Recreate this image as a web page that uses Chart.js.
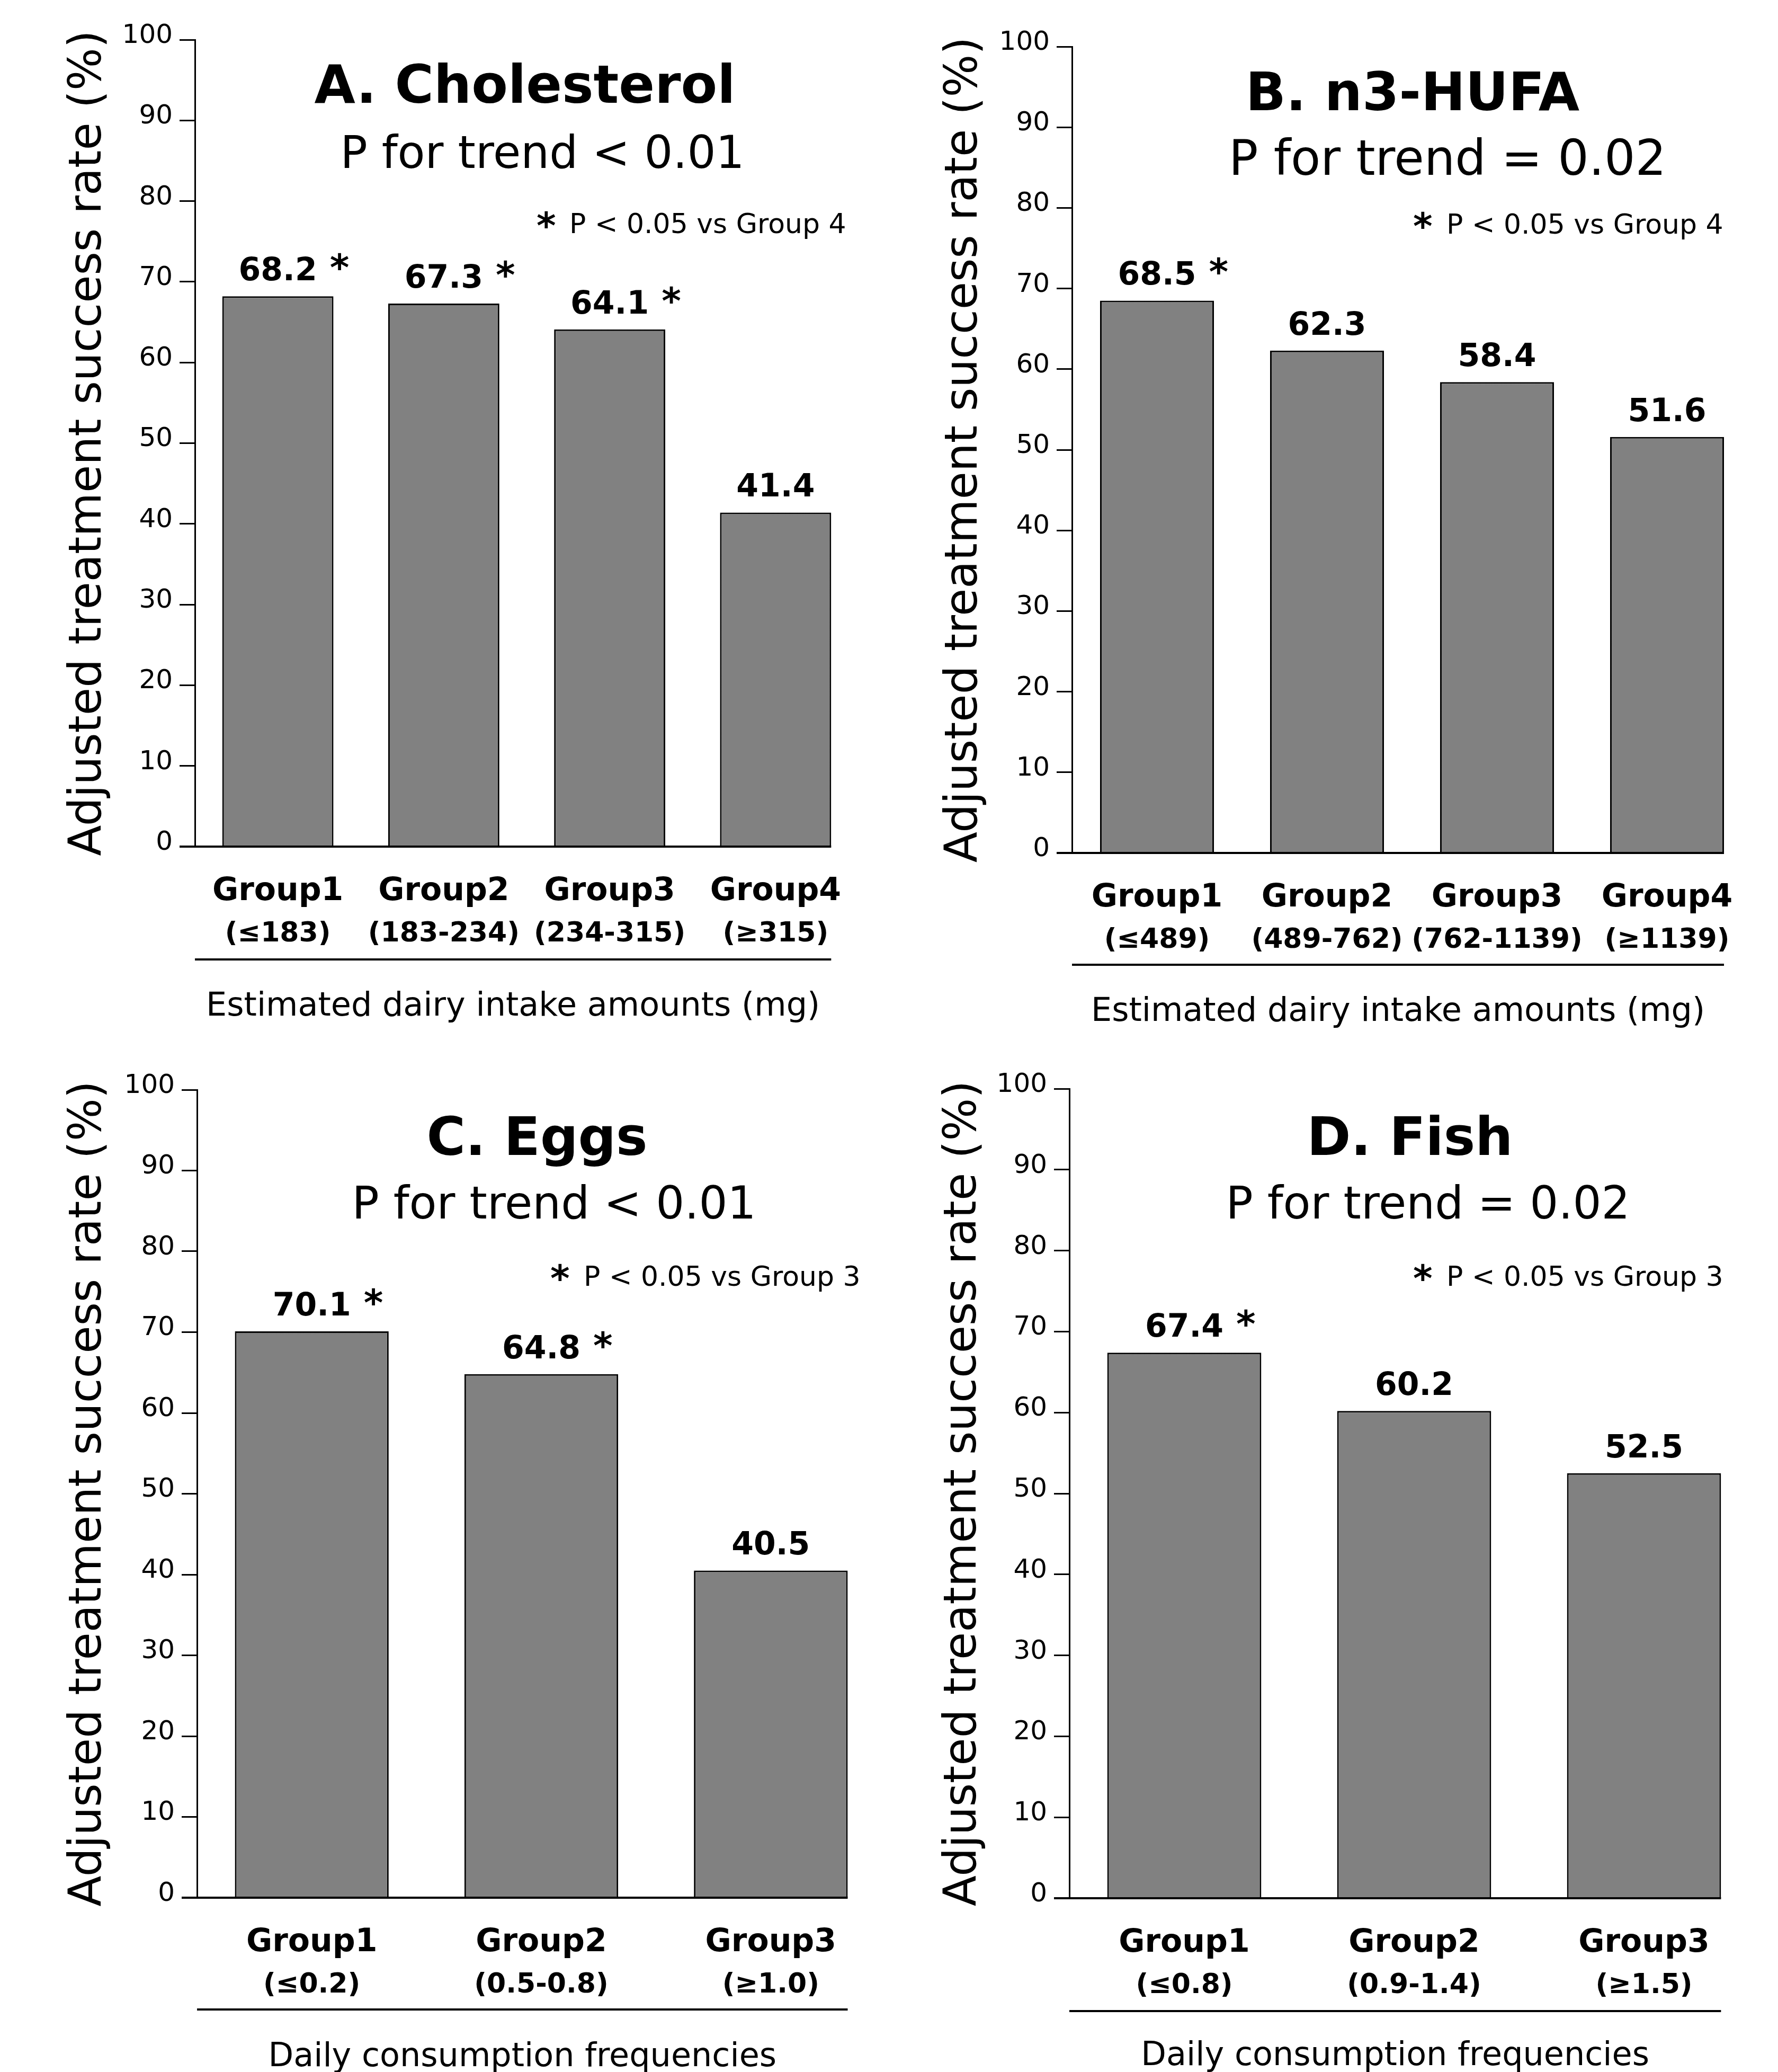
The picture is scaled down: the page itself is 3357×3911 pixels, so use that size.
<!DOCTYPE html>
<html>
<head>
<meta charset="utf-8">
<title>Adjusted treatment success rate by dietary intake</title>
<script src="https://cdn.jsdelivr.net/npm/chart.js@4.4.1/dist/chart.umd.min.js"></script>
<style>
    html, body { margin: 0; padding: 0; background: #fff; }
    body { width: 3357px; height: 3911px; position: relative; overflow: hidden; }
    .panel { position: absolute; }
    .panel canvas { display: block; }
</style>
</head>
<body>
<div class="panel" id="panel-a"><canvas id="chart-a"></canvas></div>
<div class="panel" id="panel-b"><canvas id="chart-b"></canvas></div>
<div class="panel" id="panel-c"><canvas id="chart-c"></canvas></div>
<div class="panel" id="panel-d"><canvas id="chart-d"></canvas></div>
<script>
// ---- Data ----
const groups4 = ['Group1', 'Group2', 'Group3', 'Group4'];
const groups3 = ['Group1', 'Group2', 'Group3'];

const cholesterolRanges = ['(≤183)', '(183-234)', '(234-315)', '(≥315)'];
const cholesterolRates = [68.2, 67.3, 64.1, 41.4];
const cholesterolSig = [true, true, true, false];

const hufaRanges = ['(≤489)', '(489-762)', '(762-1139)', '(≥1139)'];
const hufaRates = [68.5, 62.3, 58.4, 51.6];
const hufaSig = [true, false, false, false];

const eggRanges = ['(≤0.2)', '(0.5-0.8)', '(≥1.0)'];
const eggRates = [70.1, 64.8, 40.5];
const eggSig = [true, true, false];

const fishRanges = ['(≤0.8)', '(0.9-1.4)', '(≥1.5)'];
const fishRates = [67.4, 60.2, 52.5];
const fishSig = [true, false, false];

const yMin = 0;
const yMax = 100;
const yStep = 10;

const yAxisTitle = 'Adjusted treatment success rate (%)';

// ---- Styling ----
const FONT = "'DejaVu Sans', Verdana, sans-serif";
const TICK_LEN = 29;

Chart.defaults.color = '#000';
Chart.defaults.font.family = FONT;

/**
 * Fine grey dot texture used for the bars
 */
function makeDotPattern() {
    const tile = document.createElement('canvas');
    tile.width = 2;
    tile.height = 2;
    const t = tile.getContext('2d');
    t.fillStyle = '#c8c8c8';
    t.fillRect(0, 0, 2, 2);
    t.fillStyle = '#3a3a3a';
    t.fillRect(0, 0, 1, 1);
    t.fillRect(1, 1, 1, 1);
    return t.createPattern(tile, 'repeat');
}

const barPattern = makeDotPattern();

/**
 * Draws what the axes don't: baseline, separator, x title,
 * panel headings, the significance note and the value labels.
 */
const panelDecor = {
    id: 'panelDecor',
    afterDatasetsDraw(chart, args, opts) {
        const { ctx, chartArea, scales } = chart;
        const ox = opts.box.left;
        const oy = opts.box.top;
        const bars = chart.getDatasetMeta(0).data;
        const last = bars[bars.length - 1];
        const barRight = last.x + last.width / 2;
        const y0 = scales.y.getPixelForValue(0);

        ctx.save();
        ctx.fillStyle = '#000';
        ctx.strokeStyle = '#000';
        ctx.lineWidth = 4;

        // thick baseline and the separator under the group labels
        ctx.beginPath();
        ctx.moveTo(chartArea.left - TICK_LEN, y0);
        ctx.lineTo(barRight, y0);
        ctx.stroke();

        const sepY = opts.sepY - oy;
        ctx.beginPath();
        ctx.moveTo(chartArea.left, sepY);
        ctx.lineTo(barRight, sepY);
        ctx.stroke();

        ctx.textBaseline = 'alphabetic';
        ctx.textAlign = 'center';
        ctx.font = `62px ${FONT}`;
        ctx.fillText(opts.xTitle, (chartArea.left + barRight) / 2, opts.xTitleY - oy);

        // value labels with asterisks
        bars.forEach((bar, i) => {
            const text = opts.rates[i].toFixed(1);
            const by = bar.y - 30;
            ctx.font = `bold 60px ${FONT}`;
            ctx.textAlign = 'center';
            ctx.fillText(text, bar.x, by);
            if (opts.sig[i]) {
                const w = ctx.measureText(text).width;
                ctx.font = `bold 70px ${FONT}`;
                ctx.textAlign = 'left';
                ctx.fillText('*', bar.x + w / 2 + 24, by);
            }
        });

        // headings
        ctx.textAlign = 'center';
        ctx.font = `bold 100px ${FONT}`;
        ctx.fillText(opts.title.text, opts.title.x - ox, opts.title.y - oy);
        ctx.font = `${opts.subtitle.size}px ${FONT}`;
        ctx.fillText(opts.subtitle.text, opts.subtitle.x - ox, opts.subtitle.y - oy);

        ctx.textAlign = 'left';
        ctx.font = `bold 70px ${FONT}`;
        ctx.fillText('*', opts.note.starX - ox, opts.note.y + 10 - oy);
        ctx.font = `52px ${FONT}`;
        ctx.fillText(opts.note.text, opts.note.textX - ox, opts.note.y - oy);

        ctx.restore();
    }
};

/**
 * Build one bar panel
 * @param {Object} cfg - panel layout and data
 */
function buildPanel(cfg) {
    const holder = document.getElementById(cfg.holderId);
    const canvas = document.getElementById(cfg.canvasId);
    const box = cfg.box;
    holder.style.left = box.left + 'px';
    holder.style.top = box.top + 'px';
    canvas.width = box.width;
    canvas.height = box.height;

    const [plotLeft, plotTop, plotRight, plotBottom] = cfg.plot;
    const groupAxisHeight = 115;
    const rangeAxisHeight = box.top + box.height - plotBottom - groupAxisHeight;

    return new Chart(canvas, {
        type: 'bar',
        data: {
            labels: cfg.groups,
            datasets: [{
                data: cfg.rates,
                backgroundColor: barPattern,
                borderColor: '#000',
                borderWidth: 3,
                categoryPercentage: 1,
                barPercentage: 0.67
            }]
        },
        options: {
            responsive: false,
            animation: false,
            devicePixelRatio: 1,
            layout: {
                padding: {
                    left: 0,
                    top: plotTop - box.top,
                    right: box.left + box.width - plotRight,
                    bottom: 0
                }
            },
            plugins: {
                legend: { display: false },
                tooltip: { enabled: false },
                panelDecor: {
                    box: box,
                    rates: cfg.rates,
                    sig: cfg.sig,
                    xTitle: cfg.xTitle,
                    xTitleY: cfg.xTitleY,
                    sepY: cfg.sepY,
                    title: cfg.title,
                    subtitle: cfg.subtitle,
                    note: cfg.note
                }
            },
            scales: {
                x: {
                    position: 'bottom',
                    grid: { display: false, drawTicks: false },
                    border: { display: false },
                    ticks: {
                        font: { size: 60, weight: 'bold', lineHeight: 1 },
                        padding: 55,
                        maxRotation: 0,
                        minRotation: 0,
                        autoSkip: false
                    },
                    afterFit: (scale) => { scale.height = groupAxisHeight; }
                },
                x2: {
                    type: 'category',
                    position: 'bottom',
                    labels: cfg.ranges,
                    offset: true,
                    grid: { display: false, drawTicks: false },
                    border: { display: false },
                    ticks: {
                        font: { size: 52, weight: 'bold', lineHeight: 1 },
                        padding: 24,
                        maxRotation: 0,
                        minRotation: 0,
                        autoSkip: false
                    },
                    afterFit: (scale) => { scale.height = rangeAxisHeight; }
                },
                y: {
                    min: yMin,
                    max: yMax,
                    grid: {
                        drawOnChartArea: false,
                        drawTicks: true,
                        tickLength: TICK_LEN,
                        tickWidth: 3,
                        tickColor: '#000'
                    },
                    border: { display: true, color: '#000', width: 3 },
                    ticks: {
                        stepSize: yStep,
                        padding: 13,
                        font: { size: 50, lineHeight: 0.28 },
                        // second empty line lifts the number a little above its tick
                        callback: (value) => [String(value), '']
                    },
                    title: {
                        display: true,
                        text: yAxisTitle,
                        font: { size: 85, lineHeight: 1 },
                        padding: { top: cfg.yTitlePad, bottom: 0 }
                    },
                    afterFit: (scale) => { scale.width = plotLeft - box.left; }
                }
            }
        },
        plugins: [panelDecor]
    });
}

const panels = [
    {
        holderId: 'panel-a', canvasId: 'chart-a',
        box: { left: 0, top: 0, width: 1678, height: 1955 },
        plot: [368, 75, 1621, 1598],
        yTitlePad: 125,
        groups: groups4, ranges: cholesterolRanges, rates: cholesterolRates, sig: cholesterolSig,
        title: { text: 'A. Cholesterol', x: 991, y: 194 },
        subtitle: { text: 'P for trend < 0.01', x: 1024, y: 317, size: 85 },
        note: { text: 'P < 0.05 vs Group 4', starX: 1013, textX: 1075, y: 440 },
        sepY: 1811, xTitleY: 1917,
        xTitle: 'Estimated dairy intake amounts (mg)'
    },
    {
        holderId: 'panel-b', canvasId: 'chart-b',
        box: { left: 1678, top: 0, width: 1679, height: 1955 },
        plot: [2024, 88, 3308, 1610],
        yTitlePad: 101,
        groups: groups4, ranges: hufaRanges, rates: hufaRates, sig: hufaSig,
        title: { text: 'B. n3-HUFA', x: 2667, y: 208 },
        subtitle: { text: 'P for trend = 0.02', x: 2733, y: 330, size: 92 },
        note: { text: 'P < 0.05 vs Group 4', starX: 2668, textX: 2731, y: 441 },
        sepY: 1821, xTitleY: 1927,
        xTitle: 'Estimated dairy intake amounts (mg)'
    },
    {
        holderId: 'panel-c', canvasId: 'chart-c',
        box: { left: 0, top: 1955, width: 1678, height: 1956 },
        plot: [372, 2057, 1672, 3582],
        yTitlePad: 125,
        groups: groups3, ranges: eggRanges, rates: eggRates, sig: eggSig,
        title: { text: 'C. Eggs', x: 1014, y: 2180 },
        subtitle: { text: 'P for trend < 0.01', x: 1046, y: 2300, size: 85 },
        note: { text: 'P < 0.05 vs Group 3', starX: 1039, textX: 1102, y: 2427 },
        sepY: 3793, xTitleY: 3900,
        xTitle: 'Daily consumption frequencies'
    },
    {
        holderId: 'panel-d', canvasId: 'chart-d',
        box: { left: 1678, top: 1955, width: 1679, height: 1956 },
        plot: [2019, 2055, 3321, 3583],
        yTitlePad: 99,
        groups: groups3, ranges: fishRanges, rates: fishRates, sig: fishSig,
        title: { text: 'D. Fish', x: 2662, y: 2180 },
        subtitle: { text: 'P for trend = 0.02', x: 2696, y: 2300, size: 85 },
        note: { text: 'P < 0.05 vs Group 3', starX: 2668, textX: 2731, y: 2427 },
        sepY: 3796, xTitleY: 3898,
        xTitle: 'Daily consumption frequencies'
    }
];

panels.forEach(buildPanel);
</script>
</body>
</html>
